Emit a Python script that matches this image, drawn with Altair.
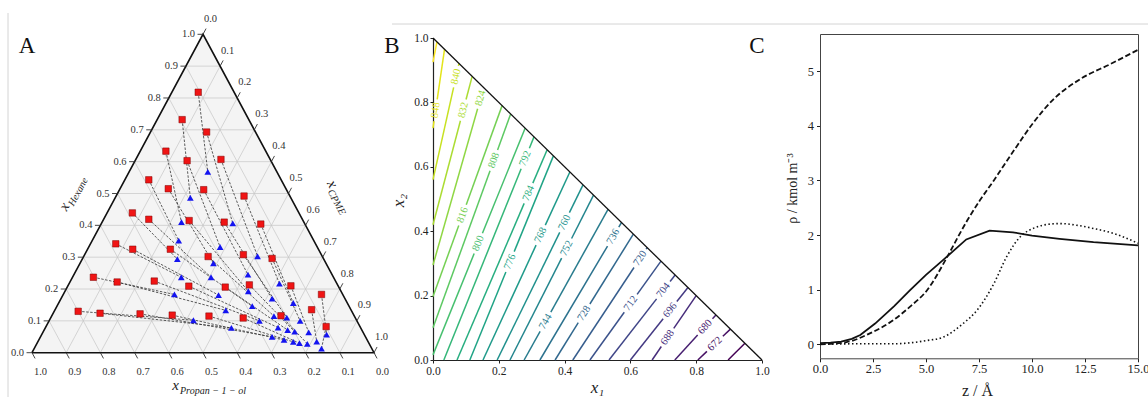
import math
import altair as alt
import pandas as pd

W, H = 1148, 397
SERIF = "Liberation Serif, Times New Roman, serif"

# ======================= Panel A : ternary tie lines =======================
# end points as mole fractions (x_Hexane, x_CPME); x_Propan-1-ol = 1 - both
red_hexane = [0.818, 0.732, 0.633, 0.543, 0.439, 0.342, 0.237, 0.130,
              0.693, 0.603, 0.515, 0.419, 0.325, 0.222, 0.124,
              0.607, 0.512, 0.415, 0.325, 0.225, 0.122,
              0.492, 0.410, 0.302, 0.209, 0.118,
              0.404, 0.308, 0.206, 0.115,
              0.296, 0.213, 0.109,
              0.210, 0.116,
              0.183, 0.135,
              0.082]
red_cpme = [0.077, 0.073, 0.075, 0.070, 0.074, 0.074, 0.061, 0.070,
            0.164, 0.152, 0.141, 0.132, 0.132, 0.138, 0.137,
            0.249, 0.246, 0.252, 0.242, 0.245, 0.255,
            0.374, 0.357, 0.364, 0.354, 0.351,
            0.467, 0.464, 0.462, 0.460,
            0.554, 0.529, 0.563,
            0.652, 0.670,
            0.755, 0.750,
            0.819]
blue_hexane = [0.568, 0.486, 0.410, 0.352, 0.294, 0.237, 0.183, 0.102,
               0.406, 0.332, 0.281, 0.237, 0.181, 0.133, 0.078,
               0.303, 0.245, 0.193, 0.146, 0.100, 0.050,
               0.217, 0.170, 0.115, 0.079, 0.040,
               0.156, 0.110, 0.071, 0.034,
               0.100, 0.066, 0.030,
               0.064, 0.028,
               0.057, 0.035,
               0.013]
blue_cpme = [0.230, 0.220, 0.232, 0.253, 0.278, 0.318, 0.325, 0.421,
             0.384, 0.384, 0.390, 0.405, 0.455, 0.500, 0.544,
             0.508, 0.509, 0.536, 0.571, 0.615, 0.677,
             0.615, 0.617, 0.650, 0.680, 0.717,
             0.686, 0.690, 0.712, 0.747,
             0.734, 0.735, 0.767,
             0.777, 0.791,
             0.833, 0.815,
             0.840]
tern_ticks = [0.0, 0.1, 0.2, 0.3, 0.4, 0.5, 0.6, 0.7, 0.8, 0.9, 1.0]

# ======================= Panel B : density contours =======================
levels = [856, 848, 840, 832, 824, 816, 808, 800, 792, 784, 776, 768, 760,
          752, 744, 736, 728, 720, 712, 704, 696, 688, 680, 672, 664]
start_x1 = [0, 0, 0, 0, 0, 0, 0, 0, 0.033, 0.073, 0.112, 0.152, 0.195,
            0.234, 0.277, 0.325, 0.371, 0.425, 0.477, 0.535, 0.600, 0.666,
            0.735, 0.805, 0.897]
start_x2 = [0.925, 0.720, 0.560, 0.420, 0.295, 0.197, 0.100, 0.016, 0, 0, 0,
            0, 0, 0, 0, 0, 0, 0, 0, 0, 0, 0, 0, 0, 0]
end_x1 = [0.012, 0.035, 0.079, 0.119, 0.154, 0.210, 0.236, 0.280, 0.307,
          0.347, 0.366, 0.416, 0.456, 0.488, 0.532, 0.573, 0.609, 0.651,
          0.693, 0.736, 0.775, 0.800, 0.860, 0.904, 0.948]
label_levels = [848, 840, 832, 824, 816, 808, 800, 792, 784, 776, 768, 760,
                752, 744, 736, 728, 720, 712, 704, 696, 688, 680, 672]
label_x1 = [0.006, 0.070, 0.092, 0.145, 0.090, 0.185, 0.138, 0.280, 0.290,
            0.234, 0.327, 0.394, 0.406, 0.342, 0.548, 0.459, 0.629, 0.601,
            0.700, 0.720, 0.710, 0.827, 0.857]
label_x2 = [0.776, 0.880, 0.776, 0.813, 0.450, 0.620, 0.362, 0.626, 0.518,
            0.305, 0.388, 0.430, 0.347, 0.119, 0.383, 0.145, 0.316, 0.176,
            0.217, 0.155, 0.072, 0.103, 0.050]
b_ticks = [0.0, 0.2, 0.4, 0.6, 0.8, 1.0]

# ======================= Panel C : density profiles =======================
z_solid = [0.0, 0.5, 1.0, 1.5, 1.9, 2.6, 3.5, 4.25, 5.0, 5.8, 6.9, 8.0, 9.1,
           10.0, 11.3, 12.9, 15.0]
rho_solid = [0.02, 0.03, 0.05, 0.10, 0.17, 0.38, 0.70, 0.99, 1.27, 1.54, 1.92,
             2.08, 2.05, 1.99, 1.93, 1.87, 1.81]
z_dashed = [0.0, 1.25, 2.35, 3.45, 4.25, 5.05, 6.0, 6.6, 6.95, 7.55, 8.2, 8.75,
            9.15, 10.05, 11.0, 12.3, 13.7, 15.0]
rho_dashed = [0.0, 0.04, 0.20, 0.44, 0.69, 0.99, 1.60, 2.03, 2.27, 2.64, 3.00,
              3.32, 3.55, 4.05, 4.48, 4.86, 5.13, 5.39]
z_dotted = [0.0, 1.9, 3.45, 5.05, 5.8, 6.75, 7.4, 8.2, 8.8, 9.45, 10.05, 10.85,
            11.35, 12.1, 12.9, 13.85, 15.0]
rho_dotted = [0.0, 0.01, 0.01, 0.07, 0.13, 0.38, 0.62, 1.11, 1.60, 1.97, 2.12,
              2.20, 2.21, 2.18, 2.12, 2.03, 1.85]
c_xticks = [0.0, 2.5, 5.0, 7.5, 10.0, 12.5, 15.0]
c_yticks = [0, 1, 2, 3, 4, 5]

# ======================= layout (pixel ranges of each panel) ===============
A_XR, A_YR = [32, 374], [352.7, 34.3]
B_XR, B_YR = [433, 762], [360, 38]
C_XR, C_YR = [820, 1138], [358.3, 34]
C_YDOM = [-0.256, 5.68]

sAx = alt.Scale(domain=[0, 1], range=A_XR, nice=False, zero=False)
sAy = alt.Scale(domain=[0, 1], range=A_YR, nice=False, zero=False)
sBx = alt.Scale(domain=[0, 1], range=B_XR, nice=False, zero=False)
sBy = alt.Scale(domain=[0, 1], range=B_YR, nice=False, zero=False)
sCx = alt.Scale(domain=[0, 15], range=C_XR, nice=False, zero=False)
sCy = alt.Scale(domain=C_YDOM, range=C_YR, nice=False, zero=False)


def AX(f): return alt.X(f, type="quantitative", scale=sAx, axis=None)
def AY(f): return alt.Y(f, type="quantitative", scale=sAy, axis=None)
def BX(f): return alt.X(f, type="quantitative", scale=sBx, axis=None)
def BY(f): return alt.Y(f, type="quantitative", scale=sBy, axis=None)


layers = []

# ---------- Panel A ----------
tri = pd.DataFrame({"X": [0, 0.5, 1], "Y": [0, 1, 0]})
layers.append(alt.Chart(tri).mark_area(color="#f4f4f4").encode(
    x=AX("X"), y=alt.Y("Y", type="quantitative", scale=sAy, axis=None, stack=None),
    y2=alt.datum(0)))

grid = []
for v in tern_ticks[1:-1]:
    grid.append(dict(X=v / 2, Y=v, X2=1 - v / 2, Y2=v))            # const hexane
    grid.append(dict(X=v, Y=0, X2=(1 + v) / 2, Y2=1 - v))          # const CPME
    grid.append(dict(X=1 - v, Y=0, X2=(1 - v) / 2, Y2=1 - v))      # const propanol
layers.append(alt.Chart(pd.DataFrame(grid)).mark_rule(color="#c6c6c6", strokeWidth=0.7).encode(
    x=AX("X"), y=AY("Y"), x2="X2", y2="Y2"))

edge = pd.DataFrame({"X": [0, 0.5, 1, 0], "Y": [0, 1, 0, 0], "o": [0, 1, 2, 3]})
layers.append(alt.Chart(edge).mark_line(color="#111", strokeWidth=1.6, strokeJoin="miter").encode(
    x=AX("X"), y=AY("Y"), order="o:Q"))

d = 0.018
ticks = []
lab_left, lab_bot, lab_right = [], [], []
for v in tern_ticks:
    s = f"{v:.1f}"
    ticks.append(dict(X=v / 2, Y=v, X2=v / 2 - 0.016, Y2=v))
    lab_left.append(dict(X=v / 2, Y=v, t=s))
    xb = 1 - v
    ticks.append(dict(X=xb, Y=0, X2=xb + 0.5 * d, Y2=-d))
    lab_bot.append(dict(X=xb, Y=0, t=s))
    xr, yr = (1 + v) / 2, 1 - v
    ticks.append(dict(X=xr, Y=yr, X2=xr + 0.5 * d, Y2=yr + d))
    lab_right.append(dict(X=xr, Y=yr, t=s))
layers.append(alt.Chart(pd.DataFrame(ticks)).mark_rule(color="#333", strokeWidth=0.9).encode(
    x=AX("X"), y=AY("Y"), x2="X2", y2="Y2"))
for rows, kw in [(lab_left, dict(align="right", dx=-8, dy=0)),
                 (lab_bot, dict(align="center", dx=8.5, dy=19.5)),
                 (lab_right, dict(align="center", dx=7.5, dy=-15.5))]:
    layers.append(alt.Chart(pd.DataFrame(rows)).mark_text(
        font=SERIF, fontSize=10.5, color="#333", baseline="middle", **kw).encode(
        x=AX("X"), y=AY("Y"), text="t:N"))

tie = pd.DataFrame({
    "X": [c + h / 2 for h, c in zip(red_hexane, red_cpme)], "Y": red_hexane,
    "X2": [c + h / 2 for h, c in zip(blue_hexane, blue_cpme)], "Y2": blue_hexane})
layers.append(alt.Chart(tie).mark_rule(color="#333", strokeWidth=0.8, strokeDash=[2.5, 1.5]).encode(
    x=AX("X"), y=AY("Y"), x2="X2", y2="Y2"))
layers.append(alt.Chart(tie).mark_point(shape="square", filled=True, fill="#f01414", size=42,
                                        stroke="#7a0000", strokeWidth=0.5, opacity=1).encode(
    x=AX("X"), y=AY("Y")))
layers.append(alt.Chart(tie).mark_point(shape="triangle-up", filled=True, fill="#1414f0", size=45,
                                        strokeWidth=0, opacity=1).encode(
    x=AX("X2"), y=AY("Y2")))

# ternary axis titles (italic x with subscript)
def sub_title(xp, yp, main, sub, angle, sub_dy=3.5):
    df = pd.DataFrame({"t": [main]})
    df2 = pd.DataFrame({"t": [sub]})
    a = alt.Chart(df).mark_text(font=SERIF, fontStyle="italic", fontSize=15, align="right",
                                baseline="alphabetic", angle=angle, color="#222").encode(
        x=alt.value(xp), y=alt.value(yp), text="t:N")
    b = alt.Chart(df2).mark_text(font=SERIF, fontStyle="italic", fontSize=10, align="left",
                                 baseline="alphabetic", angle=angle, dx=1, dy=sub_dy, color="#222").encode(
        x=alt.value(xp), y=alt.value(yp), text="t:N")
    return [a, b]

layers += sub_title(179, 390, "x", "Propan − 1 − ol", 0)
layers += sub_title(70, 206, "x", "Hexane", 298.3)
layers += sub_title(330, 189, "x", "CPME", 61.7)

# ---------- Panel B ----------
PXB = B_XR[1] - B_XR[0]
PYB = B_YR[0] - B_YR[1]
GAP = 11.0
lab_map = dict(zip(label_levels, zip(label_x1, label_x2)))
seg_rows, lab_rows = [], []
for lv, sx, sy, ex in zip(levels, start_x1, start_x2, end_x1):
    ey = 1 - ex
    dxp, dyp = (ex - sx) * PXB, (ey - sy) * PYB
    L = math.hypot(dxp, dyp)
    pieces = [(0.0, 1.0)]
    if lv in lab_map:
        lx, ly = lab_map[lv]
        t = ((lx - sx) * PXB * dxp + (ly - sy) * PYB * dyp) / L ** 2
        t = min(max(t, 0.0), 1.0)
        g = GAP / L
        pieces = [(0.0, t - g), (t + g, 1.0)]
        ang = math.degrees(math.atan2(dyp, dxp))
        lab_rows.append(dict(level=lv, x1=sx + t * (ex - sx), x2=sy + t * (ey - sy),
                             angle=(360 - ang) % 360, t=str(lv)))
    for a, b in pieces:
        if b > a:
            seg_rows.append(dict(level=lv, xa=sx + a * (ex - sx), ya=sy + a * (ey - sy),
                                 xb=sx + b * (ex - sx), yb=sy + b * (ey - sy)))

vir = alt.Scale(scheme="viridis", domain=[664, 856])
layers.append(alt.Chart(pd.DataFrame(seg_rows)).mark_rule(strokeWidth=1.5).encode(
    x=BX("xa"), y=BY("ya"), x2="xb", y2="yb",
    color=alt.Color("level:Q", scale=vir, legend=None)))
layers.append(alt.Chart(pd.DataFrame(lab_rows)).mark_text(
    font=SERIF, fontSize=10.5, align="center", baseline="middle").encode(
    x=BX("x1"), y=BY("x2"), text="t:N", angle=alt.Angle("angle:Q", scale=None),
    color=alt.Color("level:Q", scale=vir, legend=None)))

axis_common = dict(labelFont=SERIF, labelColor="#222", tickColor="#222", domainColor="#222",
                   grid=False, labelFlush=False, labelOverlap=False, titleFont=SERIF,
                   titleFontWeight="normal", titleColor="#222", titleBaseline="middle")
hyp = pd.DataFrame({"xa": [0.0], "ya": [1.0], "xb": [1.0], "yb": [0.0]})
layers.append(alt.Chart(hyp).mark_rule(color="#111", strokeWidth=1.3).encode(
    x=alt.X("xa:Q", scale=sBx, axis=alt.Axis(
        orient="bottom", offset=B_YR[0] - H, values=b_ticks, format=".1f",
        labelFontSize=11.5, tickSize=3, labelPadding=2, domainWidth=1.2,
        title="x₁", titleFontStyle="italic", titleFontSize=17, titleX=597, titleY=27,
        titleAlign="center", titleAngle=0, **axis_common)),
    y=alt.Y("ya:Q", scale=sBy, axis=alt.Axis(
        orient="left", offset=-B_XR[0], values=b_ticks, format=".1f",
        labelFontSize=11.5, tickSize=3, labelPadding=2, domainWidth=1.2,
        title="x₂", titleFontStyle="italic", titleFontSize=17, titleX=-35, titleY=200,
        titleAlign="center", titleAngle=270, **axis_common)),
    x2="xb", y2="yb"))

# ---------- Panel C ----------
ax_c = {k: v for k, v in axis_common.items() if k != "domainColor"}
dfs = pd.DataFrame({"z": z_solid, "rho": rho_solid})
dfd = pd.DataFrame({"z": z_dashed, "rho": rho_dashed})
dfo = pd.DataFrame({"z": z_dotted, "rho": rho_dotted})
layers.append(alt.Chart(dfs).mark_line(color="#111", strokeWidth=1.8).encode(
    x=alt.X("z:Q", scale=sCx, axis=alt.Axis(
        orient="bottom", offset=C_YR[0] - H, values=c_xticks, format=".1f",
        labelFontSize=12.5, tickSize=3.5, labelPadding=1, domainColor="#444",
        title="z / Å", titleFontSize=16, titleX=977, titleY=31.7, titleAlign="center",
        titleAngle=0, **ax_c)),
    y=alt.Y("rho:Q", scale=sCy, axis=alt.Axis(
        orient="left", offset=-C_XR[0], values=c_yticks, format="d",
        labelFontSize=12.5, tickSize=3.5, labelPadding=3, domainColor="#444",
        title="ρ / kmol m⁻³", titleFontSize=14, titleX=-28, titleY=188, titleAlign="center",
        titleAngle=270, **ax_c))))
layers.append(alt.Chart(dfd).mark_line(color="#111", strokeWidth=1.8, strokeDash=[5.5, 2.6],
                                       interpolate="monotone").encode(
    x=alt.X("z:Q", scale=sCx, axis=alt.Axis(orient="top", offset=-C_YR[1], labels=False,
                                            ticks=False, title=None, grid=False, domainColor="#444")),
    y=alt.Y("rho:Q", scale=sCy, axis=alt.Axis(orient="right", offset=C_XR[1] - W, labels=False,
                                              ticks=False, title=None, grid=False, domainColor="#444"))))
layers.append(alt.Chart(dfo).mark_line(color="#111", strokeWidth=1.6, strokeDash=[1.5, 2.5],
                                       interpolate="monotone").encode(
    x=alt.X("z:Q", scale=sCx, axis=None), y=alt.Y("rho:Q", scale=sCy, axis=None)))

# ---------- panel letters and frame lines of the composite ----------
one = pd.DataFrame({"k": [0]})
layers.append(alt.Chart(one).mark_rule(color="#d4d4d4", strokeWidth=1).encode(
    x=alt.value(8), y=alt.value(13), y2=alt.value(H)))
layers.append(alt.Chart(one).mark_rule(color="#d4d4d4", strokeWidth=1).encode(
    x=alt.value(392), x2=alt.value(W), y=alt.value(24)))
for letter, xp in [("A", 27), ("B", 392), ("C", 757)]:
    layers.append(alt.Chart(pd.DataFrame({"t": [letter]})).mark_text(
        font=SERIF, fontSize=23, color="#111", align="center", baseline="middle").encode(
        x=alt.value(xp), y=alt.value(46), text="t:N"))

chart = alt.layer(*layers).resolve_scale(
    x="independent", y="independent", color="independent"
).properties(
    width=W, height=H, padding=0, autosize=alt.AutoSizeParams(type="none")
).configure_view(strokeWidth=0)

chart.save("out.html", embed_options={"renderer": "svg", "actions": False})
